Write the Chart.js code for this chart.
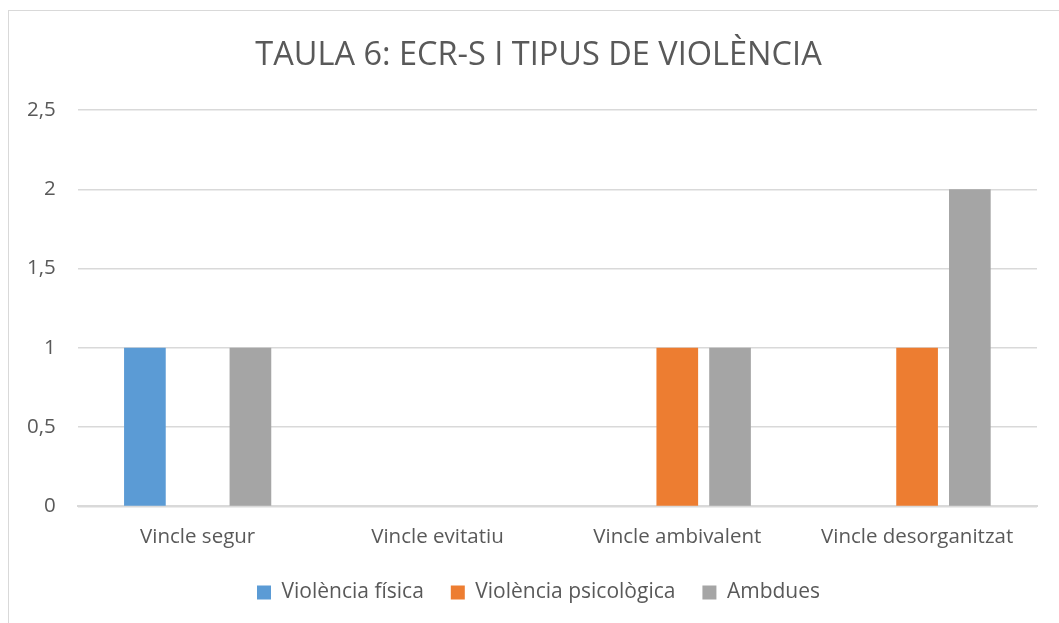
<!DOCTYPE html>
<html>
<head>
<meta charset="utf-8">
<script src="https://cdn.jsdelivr.net/npm/chart.js@4"></script>
<style>
  body { margin: 0; background: #fff; overflow: hidden; }
  #frame {
    position: absolute; left: 8px; top: 10px;
    width: 1100px; height: 620px;
    border: 1px solid #d9d9d9; box-sizing: border-box;
  }
  #chart { position: absolute; left: 0; top: 0; }
</style>
</head>
<body>
<div id="frame"></div>
<canvas id="chart" width="1094" height="623"></canvas>
<script>
"use strict";
const categories = ["Vincle segur", "Vincle evitatiu", "Vincle ambivalent", "Vincle desorganitzat"];
const fisica = [1, 0, 0, 0];
const psicologica = [0, 0, 1, 1];
const ambdues = [1, 0, 1, 2];
const yTicks = [0, 0.5, 1, 1.5, 2, 2.5];

const font = "'Open Sans', 'DejaVu Sans', sans-serif";
const textColor = "#595959";

const ctx = document.querySelector("#chart").getContext("2d");
new Chart(ctx, {
  type: "bar",
  data: {
    labels: categories,
    datasets: [
      { label: "Violència física", data: fisica, backgroundColor: "#5b9bd5" },
      { label: "Violència psicològica", data: psicologica, backgroundColor: "#ed7d31" },
      { label: "Ambdues", data: ambdues, backgroundColor: "#a5a5a5" },
    ],
  },
  options: {
    responsive: false,
    animation: false,
    devicePixelRatio: 1,
    layout: { padding: { left: 5, right: 22, top: 8, bottom: 10 } },
    datasets: { bar: { categoryPercentage: 0.66, barPercentage: 0.79 } },
    plugins: {
      title: {
        display: true,
        text: "TAULA 6: ECR-S I TIPUS DE VIOLÈNCIA",
        color: textColor,
        font: { family: font, size: 32.5, weight: "normal" },
        padding: { top: 28, bottom: 35 },
      },
      legend: {
        position: "bottom",
        labels: {
          color: textColor,
          font: { family: font, size: 21 },
          boxWidth: 14,
          boxHeight: 14,
          padding: 27,
        },
      },
      tooltip: { enabled: false },
    },
    scales: {
      x: {
        grid: { display: false },
        border: { color: "#d9d9d9", width: 2 },
        ticks: { color: textColor, font: { family: font, size: 20.5 }, padding: 10 },
        afterFit: (axis) => { axis.height -= 4; },
      },
      y: {
        min: 0,
        max: 2.5,
        border: { display: false },
        grid: { color: "#d9d9d9", lineWidth: 1.5, drawTicks: false },
        afterBuildTicks: (axis) => { axis.ticks = yTicks.map((v) => ({ value: v })); },
        ticks: {
          color: textColor,
          font: { family: font, size: 20.5 },
          padding: 22,
          callback: (v) => String(v).replace(".", ","),
        },
      },
      // empty strip on the right so title and legend centre like the original
      spacer: {
        position: "right",
        grid: { display: false },
        border: { display: false },
        ticks: { display: false },
        afterFit: (axis) => { axis.width = 35; },
      },
    },
  },
});
</script>
</body>
</html>
